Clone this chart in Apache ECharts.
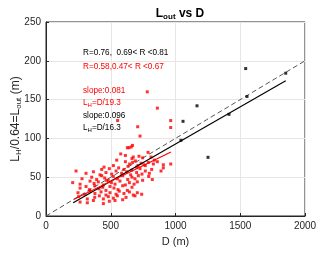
<!DOCTYPE html>
<html><head><meta charset="utf-8">
<script src="https://cdn.jsdelivr.net/npm/echarts@6/dist/echarts.min.js"></script>
<style>html,body{margin:0;padding:0;background:#fff}#c{width:320px;height:254px}</style>
</head><body><div id="c"></div>
<script>
var xTicks = [0, 500, 1000, 1500, 2000];
var yTicks = [0, 50, 100, 150, 200, 250];
var redPoints = [
[577,80],[613,78],[674,76],[718,77],[788,82],[811,76],[746,75],[664,74],
[546,72],[613,70],[646,67],[690,71],[734,68],[757,66],[790,69],[829,67],[837,72],[860,70],[906,66],[710,65],[669,69],[963,67],
[430,60],[448,63],[489,61],[520,65],[561,62],[602,60],[633,64],[662,59],[700,63],[726,61],[767,65],[816,60],[888,58],[906,62],
[232,58],[309,55],[366,57],[417,53],[463,56],[507,54],[541,58],[584,55],[623,57],[654,53],[700,56],[741,54],[767,58],[798,55],[821,47],
[278,48],[353,50],[391,47],[430,52],[453,49],[481,46],[520,51],[551,48],[592,52],[631,47],[664,50],[687,48],[713,52],[746,46],[793,51],
[206,43],[263,41],[340,45],[371,42],[404,44],[443,40],[468,46],[505,43],[533,41],[571,45],[613,40],[644,43],[680,41],[705,44],
[263,36],[309,38],[335,34],[376,39],[409,35],[438,37],[463,33],[494,38],[525,36],[556,34],[592,39],[628,33],[664,37],
[247,30],[301,28],[340,32],[378,29],[425,31],[463,27],[494,30],[541,28],[566,32],[602,29],[644,31],[674,27],[705,30],[739,28],
[252,25],[319,22],[376,24],[412,26],[443,22],[481,25],[520,23],[551,26],[592,21],[618,24],[687,26],
[263,18],[319,17],[366,20],[443,16],[489,19],[533,20],
[782,160],[860,139],[553,123],[963,123],[963,114],[708,115],[726,103],[628,88],[641,88],[668,91],[658,89]
];
var blackPoints = [[1542,190],[1851,184],[1552,154],[1166,142],[1058,122],[1413,131],[1042,97.5],[1251,75.6]];
var oneToOne = [[0,0],[2000,200]];
var blackFit = [[210,17.2],[1851,174.4]];
var redFit = [[216,21.5],[965,82.5]];

var chart = echarts.init(document.getElementById('c'));
var axCol = '#262626';
var font = 'Liberation Sans';
var rich = {
  n:{fontSize:12,fontFamily:font,color:axCol},
  s:{fontSize:8,fontFamily:font,color:axCol,padding:[6,0,0,0]}
};
function sub(col){
  return {a:{fill:col,fontSize:8.2,fontFamily:font},
          b:{fill:col,fontSize:6,fontFamily:font,padding:[5,0,0,0]}};
}
function txt(x,y,s,col){
  return {type:'text',x:x,y:y,z:100,style:{text:s,fill:col,fontSize:8.2,fontFamily:font}};
}
chart.setOption({
  animation:false,
  title:{
    text:'{b|L}{bs|out}{b| vs D}', left:175, top:1, textAlign:'center',
    textStyle:{rich:{
      b:{fontSize:12,fontWeight:'bold',fontFamily:font,color:'#000'},
      bs:{fontSize:8,fontWeight:'bold',fontFamily:font,color:'#000',padding:[7,0,0,0]}
    }}
  },
  grid:{left:46,right:15,top:22,bottom:38,show:true,borderColor:axCol,borderWidth:1,outerBoundsMode:'none',containLabel:false},
  xAxis:{
    type:'value',min:0,max:2000,interval:500,
    name:'D (m)',nameLocation:'middle',nameGap:20,
    nameTextStyle:{fontSize:11,fontFamily:font,color:axCol},
    axisLine:{lineStyle:{color:axCol}},
    axisTick:{inside:true,length:3,lineStyle:{color:axCol}},
    axisLabel:{fontSize:10,fontFamily:font,color:axCol,margin:5,
      formatter:function(v){return xTicks.indexOf(v)>=0?String(v):'';}},
    splitLine:{show:true,lineStyle:{color:'#e6e6e6'}}
  },
  yAxis:{
    type:'value',min:0,max:250,interval:50,
    name:'{n|L}{s|H}{n|/0.64=L}{s|out}{n| (m)}',nameLocation:'middle',nameGap:23,nameRotate:90,nameMoveOverlap:false,
    nameTextStyle:{rich:rich},
    axisLine:{lineStyle:{color:axCol}},
    axisTick:{inside:true,length:3,lineStyle:{color:axCol}},
    axisLabel:{fontSize:10,fontFamily:font,color:axCol,margin:5,
      formatter:function(v){return yTicks.indexOf(v)>=0?String(v):'';}},
    splitLine:{show:true,lineStyle:{color:'#e6e6e6'}}
  },
  series:[
    {type:'line',data:oneToOne,showSymbol:false,lineStyle:{color:'#555',width:1,type:[5,3]},z:2},
    {type:'scatter',data:redPoints,symbol:'rect',symbolSize:3,itemStyle:{color:'#ff0000'},z:3},
    {type:'scatter',data:blackPoints,symbol:'rect',symbolSize:3,itemStyle:{color:'#000'},z:3},
    {type:'line',data:blackFit,showSymbol:false,lineStyle:{color:'#000',width:1.2},z:4},
    {type:'line',data:redFit,showSymbol:false,lineStyle:{color:'#ff0000',width:1.2},z:4}
  ],
  graphic:[
    txt(83,49,'R=0.76,  0.69< R <0.81','#000'),
    txt(83,63,'R=0.58,0.47< R <0.67','#ff0000'),
    txt(83,87,'slope:0.081','#ff0000'),
    {type:'text',x:83,y:97,z:100,style:{text:'{a|L}{b|H}{a|=D/19.3}',rich:sub('#ff0000')}},
    txt(83,112,'slope:0.096','#000'),
    {type:'text',x:83,y:122,z:100,style:{text:'{a|L}{b|H}{a|=D/16.3}',rich:sub('#000')}}
  ]
});
</script></body></html>
